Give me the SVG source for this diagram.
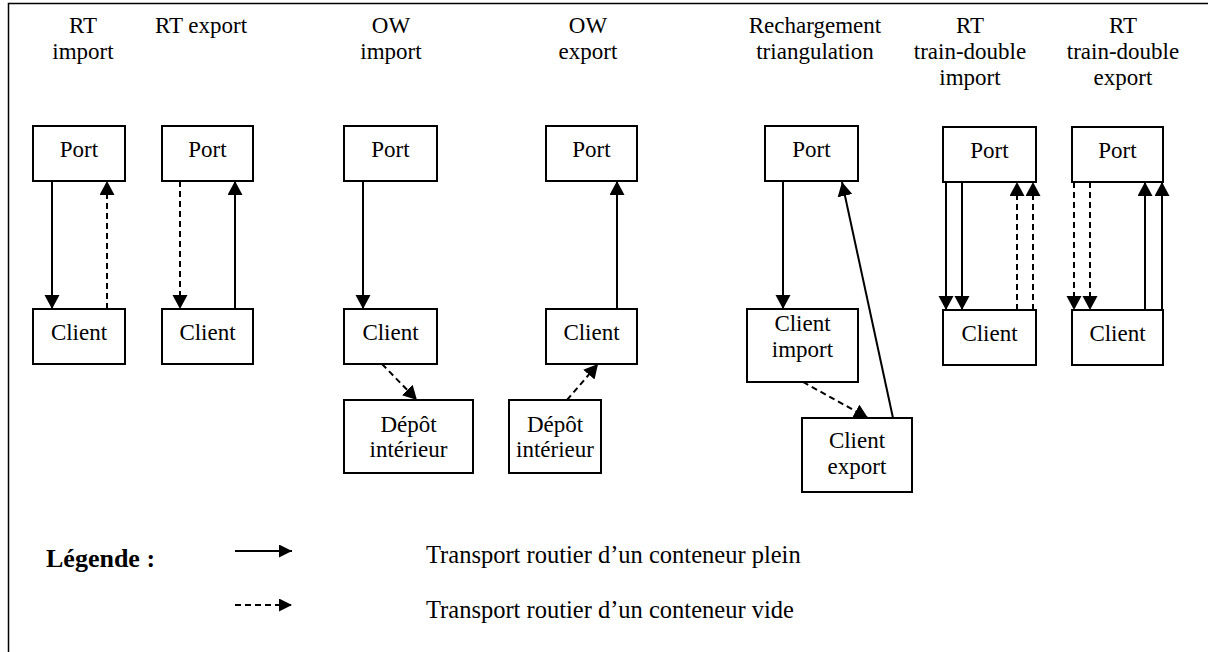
<svg xmlns="http://www.w3.org/2000/svg" width="1208" height="652" viewBox="0 0 1208 652">
<style>
text{font-family:"Liberation Serif","Times New Roman",serif;font-size:23px;fill:#000}
.h{text-anchor:middle}
.box rect{fill:#fff;stroke:#000;stroke-width:2}
.box text{text-anchor:middle}
.c{fill:none;stroke:#000;stroke-width:2}
.d{stroke-dasharray:6 4}
.lg{font-size:24.5px}
.b{font-weight:bold;font-size:26px}
</style>
<defs>
<marker id="ah" markerUnits="userSpaceOnUse" markerWidth="16" markerHeight="16" refX="14" refY="7.5" orient="auto">
<path d="M0,0 L14,7.5 L0,15 z" fill="#000"/>
</marker>
<marker id="ahs" markerUnits="userSpaceOnUse" markerWidth="14" markerHeight="14" refX="13" refY="6.5" orient="auto">
<path d="M0,0 L13,6.5 L0,13 z" fill="#000"/>
</marker>
</defs>
<rect width="1208" height="652" fill="#fff"/>
<path d="M8.5,652 V3.5 H1208" fill="none" stroke="#000" stroke-width="1.5"/>

<g id="headers">
<text class="h" x="83" y="33">RT</text><text class="h" x="83" y="59">import</text>
<text class="h" x="201" y="33">RT export</text>
<text class="h" x="391" y="33">OW</text><text class="h" x="391" y="59">import</text>
<text class="h" x="588" y="33">OW</text><text class="h" x="588" y="59">export</text>
<text class="h" x="815" y="33">Rechargement</text><text class="h" x="815" y="59">triangulation</text>
<text class="h" x="970" y="33">RT</text><text class="h" x="970" y="59">train-double</text><text class="h" x="970" y="85">import</text>
<text class="h" x="1123" y="33">RT</text><text class="h" x="1123" y="59">train-double</text><text class="h" x="1123" y="85">export</text>
</g>

<g id="rti-port" class="box"><rect x="33" y="126" width="92" height="55"/><text x="79" y="157">Port</text></g>
<g id="rti-client" class="box"><rect x="33" y="309" width="92" height="55"/><text x="79" y="340">Client</text></g>
<g id="rte-port" class="box"><rect x="162" y="126" width="91" height="55"/><text x="207.5" y="157">Port</text></g>
<g id="rte-client" class="box"><rect x="162" y="309" width="91" height="55"/><text x="207.5" y="340">Client</text></g>

<g id="owi-port" class="box"><rect x="344" y="126" width="93" height="55"/><text x="390.5" y="157">Port</text></g>
<g id="owi-client" class="box"><rect x="344" y="309" width="93" height="55"/><text x="390.5" y="340">Client</text></g>
<g id="owi-depot" class="box"><rect x="344" y="400" width="129" height="73"/><text x="408.5" y="432">Dépôt</text><text x="408.5" y="457">intérieur</text></g>

<g id="owe-port" class="box"><rect x="546" y="126" width="91" height="55"/><text x="591.5" y="157">Port</text></g>
<g id="owe-client" class="box"><rect x="546" y="309" width="91" height="55"/><text x="591.5" y="340">Client</text></g>
<g id="owe-depot" class="box"><rect x="509" y="400" width="92" height="73"/><text x="555" y="432">Dépôt</text><text x="555" y="457">intérieur</text></g>

<g id="tri-port" class="box"><rect x="765" y="126" width="93" height="55"/><text x="811.5" y="157">Port</text></g>
<g id="tri-climp" class="box"><rect x="747" y="309" width="111" height="73"/><text x="802.5" y="331">Client</text><text x="802.5" y="357">import</text></g>
<g id="tri-clexp" class="box"><rect x="802" y="418" width="110" height="74"/><text x="857" y="448">Client</text><text x="857" y="474">export</text></g>

<g id="tdi-port" class="box"><rect x="943" y="127" width="93" height="55"/><text x="989.5" y="158">Port</text></g>
<g id="tdi-client" class="box"><rect x="943" y="310" width="93" height="55"/><text x="989.5" y="341">Client</text></g>
<g id="tde-port" class="box"><rect x="1072" y="127" width="91" height="55"/><text x="1117.5" y="158">Port</text></g>
<g id="tde-client" class="box"><rect x="1072" y="310" width="91" height="55"/><text x="1117.5" y="341">Client</text></g>

<g id="connectors">
<path class="c" d="M52,181 V309" marker-end="url(#ah)"/>
<path class="c d" d="M107,309 V181" marker-end="url(#ah)"/>
<path class="c d" d="M180,181 V309" marker-end="url(#ah)"/>
<path class="c" d="M235,309 V181" marker-end="url(#ah)"/>
<path class="c" d="M363,181 V309" marker-end="url(#ah)"/>
<path class="c d" d="M382,364 L417,400" marker-end="url(#ah)"/>
<path class="c" d="M617,309 V181" marker-end="url(#ah)"/>
<path class="c d" d="M567,400 L598,364" marker-end="url(#ah)"/>
<path class="c" d="M783,181 V309" marker-end="url(#ah)"/>
<path class="c d" d="M803,382 L868,418" marker-end="url(#ah)"/>
<path class="c" d="M893,418 L842,182" marker-end="url(#ah)"/>
<path class="c" d="M946,182 V310" marker-end="url(#ah)"/>
<path class="c" d="M962,182 V310" marker-end="url(#ah)"/>
<path class="c d" d="M1017,310 V182" marker-end="url(#ah)"/>
<path class="c d" d="M1033,310 V182" marker-end="url(#ah)"/>
<path class="c d" d="M1074,182 V310" marker-end="url(#ah)"/>
<path class="c d" d="M1090,182 V310" marker-end="url(#ah)"/>
<path class="c" d="M1145,310 V182" marker-end="url(#ah)"/>
<path class="c" d="M1162,310 V182" marker-end="url(#ah)"/>
</g>

<g id="legend">
<text class="b" x="46" y="567">Légende :</text>
<path class="c" d="M235,551 H292" marker-end="url(#ahs)"/>
<path class="c d" d="M235,605 H292" marker-end="url(#ahs)"/>
<text class="lg" x="426" y="563">Transport routier d’un conteneur plein</text>
<text class="lg" x="426" y="618">Transport routier d’un conteneur vide</text>
</g>
</svg>
